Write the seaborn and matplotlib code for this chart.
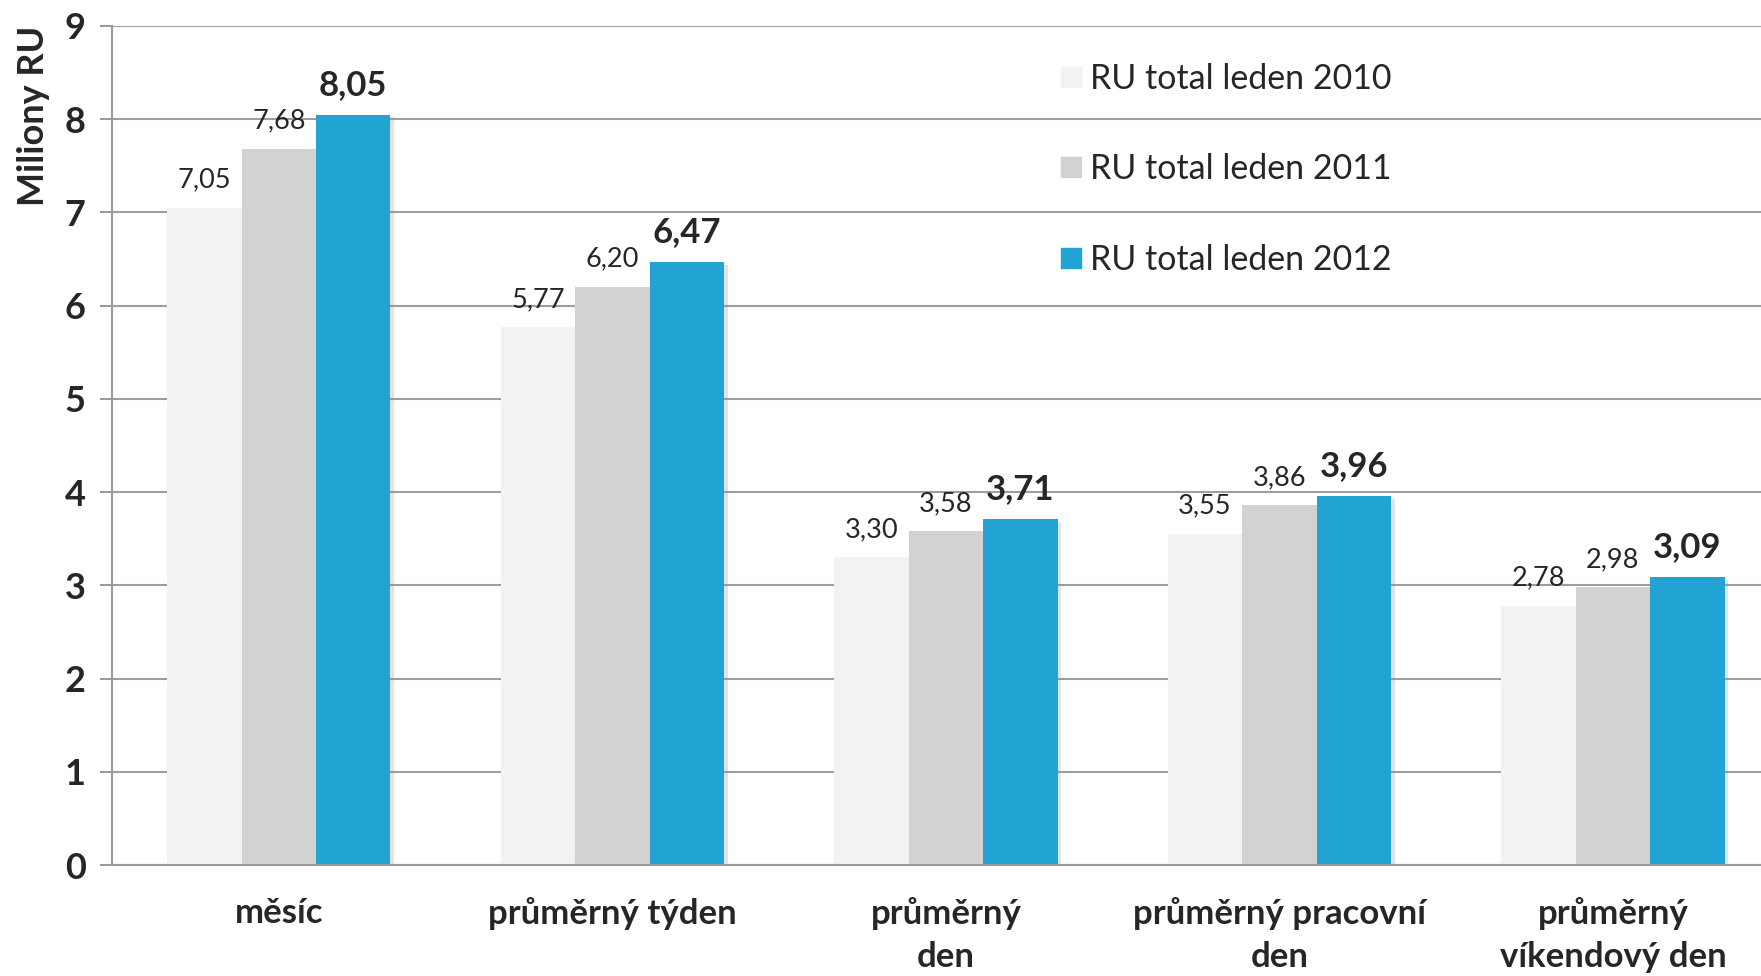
import pandas as pd
import numpy as np
import matplotlib
matplotlib.use("Agg")
import matplotlib.pyplot as plt
import matplotlib.patheffects as pe
from matplotlib.lines import Line2D
import seaborn as sns

# data (milions of RU)
categories = ["měsíc", "průměrný týden", "průměrný\nden",
              "průměrný pracovní\nden", "průměrný\nvíkendový den"]
series = ["RU total leden 2010", "RU total leden 2011", "RU total leden 2012"]
ru_2010 = [7.05, 5.77, 3.30, 3.55, 2.78]
ru_2011 = [7.68, 6.20, 3.58, 3.86, 2.98]
ru_2012 = [8.05, 6.47, 3.71, 3.96, 3.09]
colors = ["#F2F2F2", "#D2D2D2", "#21A3D3"]
yticks = [0, 1, 2, 3, 4, 5, 6, 7, 8, 9]

df = pd.DataFrame({
    "kategorie": categories * 3,
    "rada": [series[0]] * 5 + [series[1]] * 5 + [series[2]] * 5,
    "hodnota": ru_2010 + ru_2011 + ru_2012,
})

sns.set_theme(style="white")
plt.rcParams["font.family"] = ["Lato", "DejaVu Sans"]

fig = plt.figure(figsize=(17.61, 9.76), dpi=100)
ax = fig.add_axes([0.0636, 0.1137, 0.947, 0.8597])

sns.barplot(data=df, x="kategorie", y="hodnota", hue="rada",
            order=categories, hue_order=series, palette=colors,
            width=0.67, saturation=1, edgecolor="none", linewidth=0,
            ax=ax, legend=False)

shadow = [pe.SimplePatchShadow(offset=(2.5, -2), shadow_rgbFace="#909090", alpha=0.25), pe.Normal()]
for i, cont in enumerate(ax.containers):
    for bar in cont:
        bar.set_path_effects(shadow)
    labels = [f"{v:.2f}".replace(".", ",") for v in cont.datavalues]
    if i == 2:
        ax.bar_label(cont, labels=labels, padding=10, fontsize=25, fontweight="bold")
    else:
        ax.bar_label(cont, labels=labels, padding=11, fontsize=19.5)

ax.set_xlim(-0.5, 4.5)
ax.set_ylim(0, 9)
ax.set_yticks(yticks)
ax.set_yticklabels([str(t) for t in yticks], fontsize=26, fontweight="bold")
ax.set_xlabel("")
ax.set_ylabel("Miliony RU", fontsize=26, fontweight="bold")
ax.yaxis.set_label_coords(-0.037, 0.893)

ax.set_xticks(range(5))
ax.set_xticklabels(categories, fontsize=25, fontweight="bold", linespacing=1.42)
ax.set_xticks(np.arange(-0.5, 5.0, 1.0), minor=True)
ax.tick_params(axis="x", which="major", length=0, pad=23)
ax.tick_params(axis="x", which="minor", length=9, width=1.4, color="#999999", direction="out")
ax.tick_params(axis="y", length=9, width=1.4, color="#999999", direction="out", pad=10, left=True)

ax.grid(axis="y", color="#9E9E9E", linewidth=1.5)
ax.grid(axis="x", visible=False)
ax.set_axisbelow(True)
for side in ["top", "right"]:
    ax.spines[side].set_visible(False)
for side in ["left", "bottom"]:
    ax.spines[side].set_color("#999999")
    ax.spines[side].set_linewidth(1.5)

handles = [Line2D([], [], marker="s", linestyle="none", markersize=15,
                  markerfacecolor=c, markeredgecolor=c) for c in colors]
fig.legend(handles, series, loc="upper left", bbox_to_anchor=(0.583, 0.967),
           frameon=False, fontsize=24.5, handletextpad=0.15, labelspacing=1.72,
           handlelength=0.8)

fig.savefig("out.png", dpi=100)
